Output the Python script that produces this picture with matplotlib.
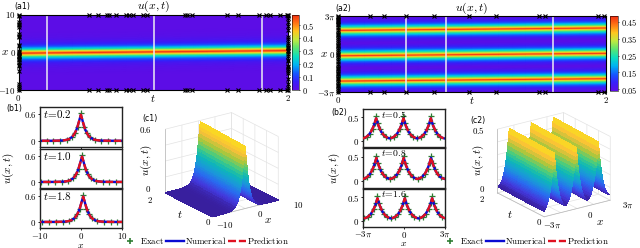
import numpy as np
import matplotlib
matplotlib.use("Agg")
import matplotlib.pyplot as plt
from matplotlib.colors import LinearSegmentedColormap, Normalize
from matplotlib.lines import Line2D
from matplotlib.legend_handler import HandlerLine2D
from mpl_toolkits.mplot3d import Axes3D  # noqa

plt.rcParams['mathtext.fontset'] = 'cm'
plt.rcParams['font.family'] = ['DejaVu Sans']
plt.rcParams['axes.linewidth'] = 0.8

W, H = 640, 248
fig = plt.figure(figsize=(W/100, H/100), dpi=100)

# ---------- data ----------
sol_dx = [0, .1, .2, .3, .4, .5, .6, .7, .8, .9, 1, 1.1, 1.2, 1.3, 1.4, 1.5, 1.6, 1.7, 1.8, 1.9, 2, 2.1, 2.2, 2.3, 2.4, 2.5, 2.75, 3, 3.5, 4, 4.5, 5, 6, 7, 8, 10, 12]
sol_u = [.585, .55, .52, .49, .455, .42, .39, .355, .325, .295, .27, .245, .225, .205, .185, .17, .153, .138, .124, .112, .10, .09, .083, .076, .069, .062, .047, .035, .021, .012, .008, .005, .002, .001, .0, .0, .0]
sol_t = [0, .2, .4, .6, .8, 1, 1.2, 1.4, 1.6, 1.8, 2]
sol_crest = [-.1, -.03, .04, .11, .18, .25, .32, .39, .46, .53, .6]

per_dx = [0, .1, .2, .3, .4, .5, .6, .7, .8, .9, 1, 1.1, 1.2, 1.3, 1.4, 1.5, 1.6, 1.7, 1.8, 1.9, 2, 2.2, 2.4, 2.6, 2.8, 3, 3.1416]
per_u = [.48, .448, .416, .388, .358, .33, .305, .283, .26, .24, .22, .203, .187, .172, .158, .145, .133, .123, .113, .104, .095, .081, .07, .061, .053, .048, .045]
per_centres = [-6.2832, 0, 6.2832]
per_crest = [-.3, -.24, -.18, -.12, -.06, 0, .06, .12, .18, .24, .3]

a1_top_t = [.526, .593, .654, .674, .726, .798, .82, .847, .926, .951, 1.235, 1.252, 1.284, 1.548, 1.627, 1.785, 1.84, 1.864, 1.938, 1.993]
a1_left_x = [10, 9.5, 8, 7.5, 7.2, 6.8, 4.8, 4.3, 4, 2, 1.6, .4, 0, -.3, -.7, -1, -1.3, -1.8, -2, -2.5, -3.3, -3.7, -5, -8.5, -9, -9.4, -10]
a1_right_x = [10, 9.5, 9, 8, 7, 6, 4, 3.5, 2.5, 2, 1.5, 1, .6, .2, -.5, -1, -2, -2.2, -3.6, -4, -4.4, -5, -5.4, -7, -8.5, -9.5, -10]
a1_slices = [.21, 1.005, 1.805]
a2_top_t = [.242, .344, .506, .717, .981, 1.18, 1.5, 1.544, 1.943, 1.988]
a2_left_x = [9.42, 9.1, 8.8, 8.5, 8.2, 7.9, 7.5, 7.2, 6.6, 6.0, 5.5, 5.0, 4.6, 4.1, 3.7, 3.2, 2.8, 2.3, 1.9, 1.4, 1.0, .5, .1, -.3, -.8, -1.3, -1.7, -2.6, -3.0, -3.4, -3.8, -4.2, -4.6, -5.0, -5.5, -5.9, -6.3, -6.7, -7.1, -7.6, -8.0, -8.4, -9.0, -9.42]
a2_slices = [.506, .805, 1.607]

b1_times = ['0.2', '1.0', '1.8']
b1_crests = [-.03, .25, .53]
b1_exact_dx = [-10, -8.3, -6.7, -5, -3.4, -2.2, -1.4, -.7, 0, .7, 1.4, 2.2, 3.4, 5, 6.7, 8.3, 10]
b1_exact_u = [0, 0, .002, .005, .024, .085, .18, .31, .62, .31, .18, .085, .024, .005, .002, 0, 0]
b2_times = ['0.5', '0.8', '1.6']
b2_crests = [-.12, -.06, .18]
b2_exact_dx = [-3.1, -2.2, -1.5, -.8, -.35, 0, .35, .8, 1.5, 2.2]
b2_exact_u = [.045, .078, .145, .25, .38, .52, .38, .25, .145, .078]

rainbow = LinearSegmentedColormap.from_list('rb', [
    (.36, .05, .90), (.22, .12, .98), (.08, .35, 1), (0, .70, .95), (.05, .87, .75),
    (.35, .90, .45), (.75, .92, .25), (1, .78, .12), (1, .45, .08), (.95, .18, .08)])
parula = LinearSegmentedColormap.from_list('par', [
    (.22, .12, .62), (.26, .22, .86), (.16, .42, .94), (.10, .60, .85), (.05, .72, .72),
    (.28, .80, .50), (.67, .78, .24), (.98, .75, .22), (.98, .87, .12)])


def pxbox(x0, y0, x1, y1, **kw):
    return fig.add_axes([x0/W, 1-y1/H, (x1-x0)/W, (y1-y0)/H], **kw)


def pxtext(x, y, s, size, **kw):
    fig.text(x/W, 1-y/H, s, fontsize=size, va='center', ha=kw.pop('ha', 'center'), **kw)


FS = 6.4
def mt(s):
    return '$' + s + '$'


# ---------- heat maps ----------
sx = np.array([-d for d in sol_dx[:0:-1]] + sol_dx)
su = np.array(sol_u[:0:-1] + sol_u)
Ta, Xa = np.meshgrid(sol_t, sx)
Xa = Xa + np.array(sol_crest)[None, :]
Ua = np.tile(su[:, None], (1, len(sol_t)))

px_half = [-d for d in per_dx[:0:-1]] + per_dx
pu_half = per_u[:0:-1] + per_u
px_full = []
pu_full = []
for i, c in enumerate(per_centres):
    start = 0 if i == 0 else 1
    px_full += [c + d for d in px_half[start:]]
    pu_full += pu_half[start:]
px_full = np.array(px_full)
pu_full = np.array(pu_full)
Tb, Xb = np.meshgrid(sol_t, px_full)
Xb = Xb + np.array(per_crest)[None, :]
Ub = np.tile(pu_full[:, None], (1, len(sol_t)))


def heat(box, cbox, T, X, U, ylim, yt, ytl, top_t, left_x, right_x, slices, vmin, vmax, cticks, clabels, lab, labxy):
    ax = pxbox(*box)
    ax.set_facecolor(rainbow(0))
    m = ax.pcolormesh(T, X, U, shading='gouraud', cmap=rainbow, norm=Normalize(vmin, vmax), rasterized=True)
    ax.set_xlim(0, 2); ax.set_ylim(*ylim)
    for s in slices:
        ax.axvline(s, color='#ececf4', lw=1.1)
    mk = dict(marker='x', ls='none', color='k', ms=2.8, mew=0.8, clip_on=False, zorder=5)
    ax.plot(top_t, [ylim[1]]*len(top_t), **mk)
    ax.plot(top_t, [ylim[0]]*len(top_t), **mk)
    ax.plot([0]*len(left_x), left_x, **mk)
    if right_x:
        ax.plot([2]*len(right_x), right_x, **mk)
    ax.set_xticks([0, 2]); ax.set_xticklabels([mt('0'), mt('2')], fontsize=FS)
    ax.set_yticks(yt); ax.set_yticklabels(ytl, fontsize=FS)
    ax.tick_params(length=1.2, width=.6, pad=.8)
    ax.set_xlabel(mt('t'), fontsize=8, labelpad=-7)
    ax.set_ylabel(mt('x'), fontsize=8, rotation=0, va='center', ha='center')
    ax.yaxis.set_label_coords(-14/(box[2]-box[0]), .5)
    ax.set_title(mt('u(x,t)'), fontsize=8.5, pad=2)
    cax = pxbox(*cbox)
    cb = fig.colorbar(m, cax=cax)
    cb.set_ticks(cticks); cb.set_ticklabels(clabels, fontsize=FS-.4)
    cb.ax.tick_params(length=1, width=.5, pad=1)
    cb.outline.set_linewidth(.4)
    pxtext(labxy[0], labxy[1], lab, 5.6, ha='left')


heat((18.5, 14.5, 288, 90), (292, 14.5, 299, 90), Ta, Xa, Ua, (-10, 10), [-10, 0, 10],
     [mt(r'\mathrm{-}10'), mt('0'), mt('10')], a1_top_t, a1_left_x, a1_right_x, a1_slices, 0, .585,
     [0, .1, .2, .3, .4, .5], [mt(v) for v in ['0', '0.1', '0.2', '0.3', '0.4', '0.5']], '(a1)', (14, 7))
heat((338, 16, 606, 92), (610, 16, 618, 91), Tb, Xb, Ub, (-9.42, 9.42), [-9.42, 0, 9.42],
     [mt(r'\mathrm{-}3\pi'), mt('0'), mt(r'3\pi')], a2_top_t, a2_left_x, [], a2_slices, .04, .485,
     [.05, .15, .25, .35, .45], [mt(v) for v in ['0.05', '0.15', '0.25', '0.35', '0.45']], '(a2)', (335, 9))


# ---------- line panels ----------
def lines(boxes, lx, lu, crests, times, ex_dx, ex_u, xlim, ylim, ytick, xtl, xtv, labname, labxy, txy, ylx, xly, centres=(0,)):
    for i, b in enumerate(boxes):
        ax = pxbox(*b)
        for s in ax.spines.values():
            s.set_linewidth(1.0); s.set_color('#222222')
        ax.plot(lx + crests[i], lu, color='#0a0ad2', lw=1.7, zorder=2)
        ax.plot(lx + crests[i], lu, color='#e01020', lw=1.7, ls=(0, (3.2, 1.2)), zorder=3)
        for c in centres:
            ax.plot(np.array(ex_dx) + c + crests[i], ex_u, ls='none', marker='+', color='#2e7d32',
                    ms=4.4, mew=.9, zorder=1, clip_on=True)
        ax.set_xlim(*xlim); ax.set_ylim(*ylim)
        ax.set_yticks([0, ytick]); ax.set_yticklabels([mt('0'), mt(f'{ytick}')], fontsize=FS)
        ax.set_xticks(xtv)
        ax.tick_params(length=1.5, width=.6, pad=1)
        ax.tick_params(axis='x', pad=.5)
        if i == 2:
            ax.set_xticklabels(xtl, fontsize=FS)
            ax.set_xlabel(mt('x'), fontsize=7, va='center')
            ax.xaxis.set_label_coords(.5, -(xly - b[3])/(b[3]-b[1]))
        else:
            ax.set_xticklabels([])
        if i == 1:
            ax.set_ylabel(mt('u(x,t)'), fontsize=8)
            ax.yaxis.set_label_coords(ylx/(b[2]-b[0]), .5)
        ax.text(txy[0], txy[1], mt('t\\!=\\!' + times[i]), transform=ax.transAxes, fontsize=txy[2], va='top', ha='left')
    pxtext(labxy[0], labxy[1], labname, 5.6, ha='left')


lines([(40, 107, 122, 147), (40, 149, 122, 188), (40, 189, 122, 228)], sx, su, b1_crests, b1_times,
      b1_exact_dx, b1_exact_u, (-10, 10), (-.14, .76), 0.6, [mt(r'\mathrm{-}10'), mt('0'), mt('10')], [-10, 0, 10],
      '(b1)', (6, 109), (.04, .97, 8), -24, 244.5)
lines([(363, 109, 445, 147), (363, 148, 445, 188), (363, 189, 445, 227)], px_full, pu_full, b2_crests, b2_times,
      b2_exact_dx, b2_exact_u, (-9.42, 9.42), (-.14, .68), 0.5, [mt(r'\mathrm{-}3\pi'), mt('0'), mt(r'3\pi')], [-9.42, 0, 9.42],
      '(b2)', (331, 113), (.22, 1.0, 7), -21, 243.5, centres=per_centres)


# ---------- 3-D surfaces ----------
def surf(pos, X, T, U, zt, xgrid, xl, labels, cmin, cmax):
    ax = fig.add_axes(pos, projection='3d', proj_type='ortho')
    ax.patch.set_alpha(0)
    ax.set_box_aspect((97, 98, 82), zoom=0.96)
    ax.view_init(elev=21, azim=-125)
    colors = parula(Normalize(cmin, cmax)(U[:-1, :-1] * .5 + U[1:, 1:] * .5))
    ax.plot_surface(X, T, U, facecolors=colors, shade=False, rstride=1, cstride=1, linewidth=.3, antialiased=False)
    ax.set_xlim(*xl); ax.set_ylim(0, 2); ax.set_zlim(0, zt[-1])
    ax.set_xticks(xgrid); ax.set_yticks([0, .5, 1, 1.5, 2]); ax.set_zticks(zt)
    ax.set_xticklabels([]); ax.set_yticklabels([]); ax.set_zticklabels([])
    for a in (ax.xaxis, ax.yaxis, ax.zaxis):
        a.set_pane_color((1, 1, 1, 0))
        a._axinfo['grid'].update(color='#e3e3e3', linewidth=.5)
        a.line.set_color('#b8b8b8'); a.line.set_linewidth(.5)
        a._axinfo['tick'].update(inward_factor=0, outward_factor=.0)
    ax.zaxis.set_ticks_position('upper')
    for (x, y, s, size, rot) in labels:
        pxtext(x, y, s, size, rotation=rot)
    return ax


XX, TT = np.meshgrid(sx, sol_t, indexing='xy')
XX = XX + np.array(sol_crest)[:, None]
keep = np.clip(XX, -10, 10)
UU = np.tile(su, (len(sol_t), 1))
surf([130/W, 1-234/H, 180/W, 135/H], keep, TT, UU, [0, .15, .3, .45, .6], [-10, -5, 0, 5, 10], (-10, 10),
     [(150, 118, '(c1)', 5.6, 0), (145, 130, mt('0.6'), FS, 0), (148, 189, mt('0'), FS, 0), (150, 200, mt('2'), FS, 0),
      (146, 160, mt('u(x,t)'), 8, 90), (180, 215, mt('t'), 8, 0), (208, 222, mt('0'), FS, 0),
      (225, 225, mt(r'\mathrm{-}10'), FS, 0), (260, 214, mt('0'), FS, 0), (268, 220, mt('x'), 8, 0),
      (298, 205, mt('10'), FS, 0)], 0, .585)

XY, TY = np.meshgrid(px_full, sol_t, indexing='xy')
XY = np.clip(XY + np.array(per_crest)[:, None], -9.42, 9.42)
UY = np.tile(pu_full, (len(sol_t), 1))
surf([462/W, 1-234/H, 180/W, 135/H], XY, TY, UY, [0, .1, .2, .3, .4, .5], [-9.42, -4.71, 0, 4.71, 9.42], (-9.42, 9.42),
     [(478, 120, '(c2)', 5.6, 0), (478, 131, mt('0.5'), FS, 0), (482, 189, mt('0'), FS, 0), (482, 199, mt('2'), FS, 0),
      (478, 160, mt('u(x,t)'), 8, 90), (510, 214, mt('t'), 8, 0), (539, 222, mt('0'), FS, 0),
      (552, 225, mt(r'\mathrm{-}3\pi'), FS, 0), (590, 215, mt('0'), FS, 0), (600, 222, mt('x'), 8, 0),
      (628, 205, mt(r'3\pi'), FS, 0)], .04, .48)


# ---------- legends ----------
class PlusHandler(HandlerLine2D):
    def get_xdata(self, legend, xdescent, ydescent, width, height, fontsize):
        x, _ = super().get_xdata(legend, xdescent, ydescent, width, height, fontsize)
        return x, [width * .9]


def legend(cx):
    h = [Line2D([], [], ls='none', marker='+', color='#2e7d32', ms=5, mew=1.2),
         Line2D([], [], color='#0a0ad2', lw=1.7),
         Line2D([], [], color='#e01020', lw=1.7, ls=(0, (3.4, 1.2)))]
    fig.legend(h, [r'$\mathrm{Exact}$', r'$\mathrm{Numerical}$', r'$\mathrm{Prediction}$'], ncol=3, frameon=False,
               loc='center', bbox_to_anchor=(cx/W, 1-241/H), fontsize=6.4, handlelength=2.0,
               handletextpad=.1, columnspacing=.2, borderpad=0, borderaxespad=0,
               handler_map={h[0]: PlusHandler(numpoints=1)})


legend(205)
legend(525)

fig.savefig('out.png', dpi=100)
